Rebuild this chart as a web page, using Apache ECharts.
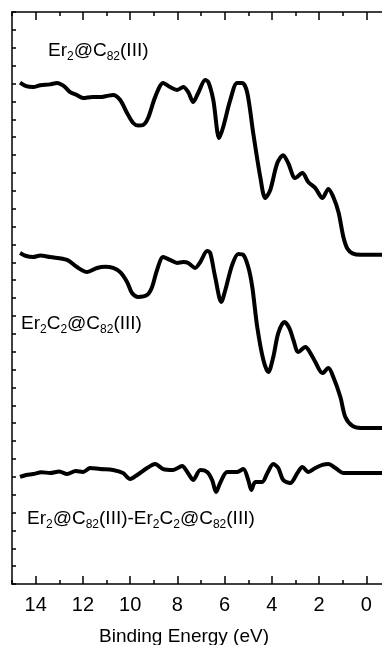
<!DOCTYPE html>
<html>
<head>
    <meta charset='utf-8' />
    <title>spectra</title>
    <script src="https://cdn.jsdelivr.net/npm/echarts@6/dist/echarts.min.js"></script>
</head>
<body style='margin:0;width: 382px;height:645px;background:#fff;'>
<div id='chart' style='width:382px;height:645px;'></div>

<script type='text/javascript'>
    // binding energy (eV) and intensity (arb. units)
    var energyA = [14.66, 14.4, 14.11, 13.8, 13.4, 13.09, 12.8, 12.54, 12.25, 11.99, 11.6, 11.27, 11.0, 10.72, 10.42, 10.13, 9.87, 9.65, 9.45, 9.24, 8.94, 8.60, 8.31, 8.01, 7.75, 7.54, 7.33, 7.12, 6.82, 6.69, 6.48, 6.23, 6.06, 5.76, 5.47, 5.25, 5.04, 4.79, 4.49, 4.28, 4.07, 3.77, 3.52, 3.31, 3.01, 2.71, 2.46, 2.16, 1.86, 1.61, 1.40, 1.18, 0.97, 0.80, 0.59, 0.25, -0.68];
    var intensityA = [28.05, 27.85, 27.80, 27.90, 27.95, 28.03, 27.85, 27.52, 27.35, 27.19, 27.25, 27.24, 27.30, 27.36, 27.08, 26.35, 25.79, 25.65, 25.68, 26.07, 27.24, 28.03, 27.80, 27.64, 27.80, 27.52, 26.97, 27.47, 28.20, 28.08, 27.08, 24.95, 25.57, 27.08, 28.03, 28.03, 27.47, 25.23, 22.76, 21.59, 22.04, 23.55, 23.99, 23.55, 22.71, 22.99, 22.49, 22.15, 21.59, 22.10, 21.65, 20.80, 19.40, 18.75, 18.50, 18.42, 18.42];

    var energyB = [14.66, 14.4, 14.11, 13.8, 13.39, 12.67, 12.25, 11.82, 11.40, 11.05, 10.72, 10.42, 10.13, 9.92, 9.66, 9.28, 9.07, 8.86, 8.60, 8.31, 8.01, 7.75, 7.54, 7.25, 7.03, 6.74, 6.61, 6.40, 6.14, 5.97, 5.68, 5.42, 5.21, 5.00, 4.83, 4.62, 4.36, 4.15, 3.94, 3.73, 3.47, 3.26, 3.09, 2.88, 2.58, 2.37, 2.16, 1.86, 1.61, 1.40, 1.10, 0.89, 0.59, 0.25, -0.68];
    var intensityB = [18.52, 18.35, 18.29, 18.38, 18.29, 18.13, 17.73, 17.45, 17.68, 17.75, 17.68, 17.45, 16.90, 16.28, 16.06, 16.17, 16.62, 17.57, 18.29, 18.13, 17.96, 18.01, 17.96, 17.68, 18.01, 18.63, 18.52, 17.17, 15.78, 16.45, 17.85, 18.46, 18.41, 17.73, 16.62, 14.38, 12.53, 11.86, 12.70, 14.04, 14.66, 14.32, 13.65, 12.98, 13.26, 12.92, 12.42, 11.80, 12.08, 11.58, 10.46, 9.34, 8.84, 8.73, 8.73];

    var energyC = [14.66, 14.4, 14.11, 13.75, 13.39, 13.0, 12.67, 12.3, 11.99, 11.69, 11.27, 10.72, 10.30, 10.00, 9.70, 9.28, 8.94, 8.60, 8.18, 7.80, 7.58, 7.33, 7.03, 6.74, 6.53, 6.36, 6.19, 5.89, 5.47, 5.21, 5.00, 4.87, 4.70, 4.41, 4.19, 3.94, 3.73, 3.52, 3.22, 2.92, 2.71, 2.46, 2.16, 1.86, 1.61, 1.31, 0.97, 0.55, -0.68];
    var intensityC = [5.99, 6.10, 6.15, 6.25, 6.21, 6.30, 6.15, 6.32, 6.27, 6.49, 6.43, 6.38, 6.21, 5.87, 6.10, 6.49, 6.71, 6.43, 6.38, 6.60, 6.27, 5.82, 6.38, 6.27, 5.82, 5.15, 5.65, 6.27, 6.27, 6.43, 5.82, 5.26, 5.71, 5.71, 6.21, 6.71, 6.49, 5.82, 5.65, 6.21, 6.55, 6.27, 6.49, 6.66, 6.71, 6.49, 6.21, 6.21, 6.21];

    var xTickValues = [0, 2, 4, 6, 8, 10, 12, 14];
    var xTitle = 'Binding Energy (eV)';

    function pairs(xs, ys) {
        return xs.map(function (x, i) { return [x, ys[i]]; });
    }

    // subscripts sit at the bottom of a taller line box
    var sub = { fontSize: 12, fontFamily: 'Liberation Sans', fill: '#000', verticalAlign: 'bottom' };
    var norm = { fontSize: 19, fontFamily: 'Liberation Sans', fill: '#000', lineHeight: 25 };
    function label(left, top, text) {
        return {
            type: 'text', left: left, top: top,
            style: { text: text, rich: { n: norm, s: sub } }
        };
    }

    var axisColor = '#000';
    function xAxisBase(pos) {
        return {
            type: 'value', position: pos, min: -1, max: 15, inverse: true,
            splitLine: { show: false },
            axisLine: { show: true, onZero: false, lineStyle: { color: axisColor, width: 1.5 } }
        };
    }

    var bottomMajor = xAxisBase('bottom');
    bottomMajor.axisTick = { show: true, inside: true, length: 8, customValues: xTickValues, lineStyle: { color: axisColor, width: 1.5 } };
    bottomMajor.axisLabel = { show: true, customValues: xTickValues, fontSize: 20, color: '#000', fontFamily: 'Liberation Sans', margin: 11 };
    bottomMajor.name = xTitle;
    bottomMajor.nameLocation = 'middle';
    bottomMajor.nameGap = 43;
    bottomMajor.nameTextStyle = { fontSize: 19, color: '#000', fontFamily: 'Liberation Sans', padding: [0, 34, 0, 0] };

    var bottomMinor = xAxisBase('bottom');
    bottomMinor.interval = 2;
    bottomMinor.axisLine = { show: false };
    bottomMinor.axisTick = { show: true, inside: true, length: 4, lineStyle: { color: axisColor, width: 1.5 } };
    bottomMinor.axisLabel = { show: false };

    var topMajor = xAxisBase('top');
    topMajor.axisTick = { show: true, inside: true, length: 8, customValues: xTickValues, lineStyle: { color: axisColor, width: 1.5 } };
    topMajor.axisLabel = { show: false };

    var topMinor = xAxisBase('top');
    topMinor.interval = 2;
    topMinor.axisLine = { show: false };
    topMinor.axisTick = { show: true, inside: true, length: 4, lineStyle: { color: axisColor, width: 1.5 } };
    topMinor.axisLabel = { show: false };

    var lineStyle = { color: '#000', width: 4 };

    var option = {
        animation: false,
        backgroundColor: '#fff',
        grid: { left: 12, top: 12, bottom: 61, right: -8, outerBoundsMode: 'none', containLabel: false },
        xAxis: [bottomMajor, bottomMinor, topMajor, topMinor],
        yAxis: {
            type: 'value', min: 0, max: 32, interval: 1,
            axisLine: { show: true, onZero: false, lineStyle: { color: axisColor, width: 1.5 } },
            axisTick: { show: true, inside: true, length: 4, lineStyle: { color: axisColor, width: 1.5 } },
            axisLabel: { show: false },
            splitLine: { show: false }
        },
        series: [
            { type: 'line', data: pairs(energyA, intensityA), showSymbol: false, smooth: 0.3, lineStyle: lineStyle },
            { type: 'line', data: pairs(energyB, intensityB), showSymbol: false, smooth: 0.3, lineStyle: lineStyle },
            { type: 'line', data: pairs(energyC, intensityC), showSymbol: false, smooth: 0.3, lineStyle: lineStyle }
        ],
        graphic: [
            label(48, 41, '{n|Er}{s|2}{n|@C}{s|82}{n|(III)}'),
            label(21, 314, '{n|Er}{s|2}{n|C}{s|2}{n|@C}{s|82}{n|(III)}'),
            label(27, 509, '{n|Er}{s|2}{n|@C}{s|82}{n|(III)-Er}{s|2}{n|C}{s|2}{n|@C}{s|82}{n|(III)}')
        ]
    };

    var myChart = echarts.init(document.getElementById('chart'));
    myChart.setOption(option);
</script>
</body>
</html>
